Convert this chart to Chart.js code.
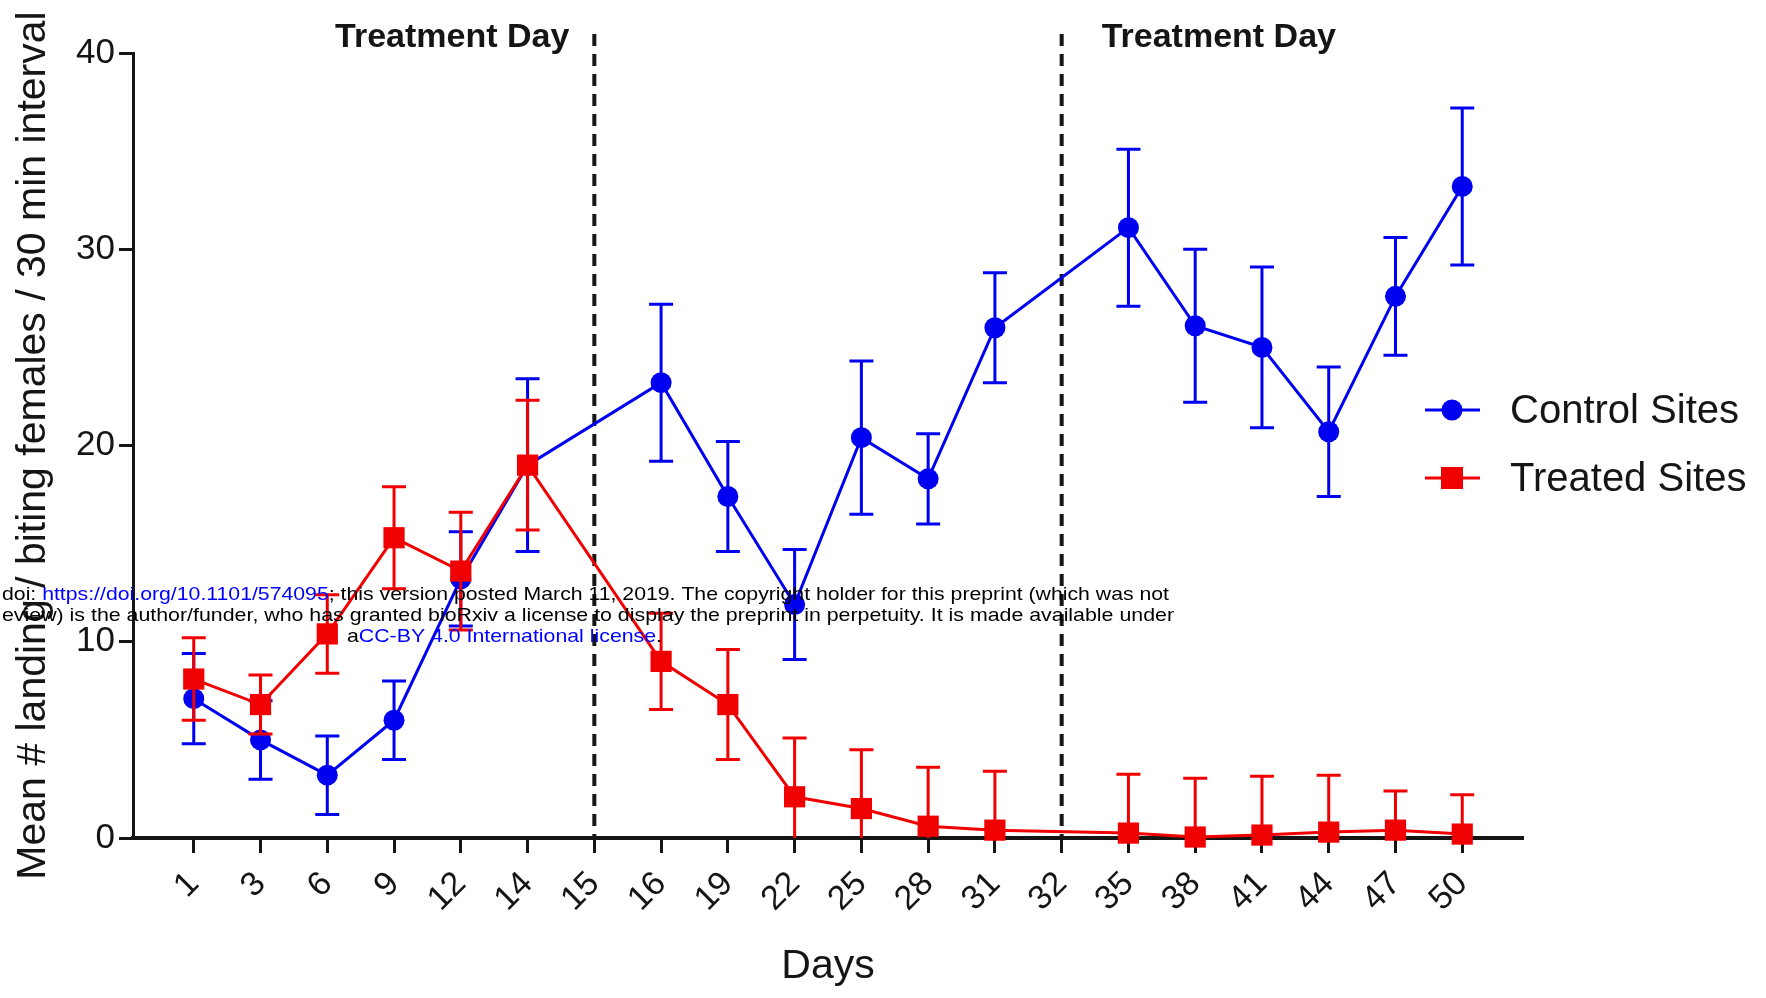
<!DOCTYPE html>
<html lang="en">
<head>
    <meta charset="UTF-8">
    <title>Landing / biting females by day</title>
    <script src="https://cdn.jsdelivr.net/npm/chart.js"></script>
    <style>
        body { margin: 0; background: #fff; }
        canvas { display: block; }
    </style>
</head>
<body>
    <canvas id="daysChart" width="1766" height="998"></canvas>

    <script>
        // values (mean and error half-width)
        const days = ['1', '3', '6', '9', '12', '14', '15', '16', '19', '22', '25', '28', '31', '32', '35', '38', '41', '44', '47', '50'];
        const controlMean = [7.1, 5.0, 3.2, 6.0, 13.2, 19.0, null, 23.2, 17.4, 11.9, 20.4, 18.3, 26.0, null, 31.1, 26.1, 25.0, 20.7, 27.6, 33.2];
        const controlErr = [2.3, 2.0, 2.0, 2.0, 2.4, 4.4, null, 4.0, 2.8, 2.8, 3.9, 2.3, 2.8, null, 4.0, 3.9, 4.1, 3.3, 3.0, 4.0];
        const treatedMean = [8.1, 6.8, 10.4, 15.3, 13.6, 19.0, null, 9.0, 6.8, 2.1, 1.5, 0.6, 0.4, null, 0.25, 0.05, 0.15, 0.3, 0.4, 0.2];
        const treatedErr = [2.1, 1.5, 2.0, 2.6, 3.0, 3.3, null, 2.45, 2.8, 3.0, 3.0, 3.0, 3.0, null, 3.0, 3.0, 3.0, 2.9, 2.0, 2.0];
        const treatmentDays = ['15', '32'];
        const yTicks = [0, 10, 20, 30, 40];

        const BLUE = 'rgb(0,0,240)';
        const RED = 'rgb(240,0,0)';
        const INK = '#151515';
        const FONT = '"Liberation Sans", Arial, sans-serif';

        const toPoints = arr => arr.map((v, i) => ({ x: i, y: v }));

        // error bars, drawn right after each dataset so red sits on top of blue
        const errorBars = {
            id: 'errorBars',
            afterDatasetDraw(chart, args) {
                const ds = chart.data.datasets[args.index];
                const err = ds.errors;
                if (!err) return;
                const ctx = chart.ctx;
                const xs = chart.scales.x, ys = chart.scales.y;
                const area = chart.chartArea;
                ctx.save();
                ctx.beginPath();
                ctx.rect(area.left, area.top - 20, area.right - area.left, area.bottom - area.top + 20);
                ctx.clip();
                ctx.strokeStyle = ds.borderColor;
                ctx.lineWidth = 3;
                ds.data.forEach((p, i) => {
                    if (p.y == null || err[i] == null) return;
                    const x = xs.getPixelForValue(p.x);
                    const yTop = ys.getPixelForValue(p.y + err[i]);
                    const yBot = ys.getPixelForValue(p.y - err[i]);
                    ctx.beginPath();
                    ctx.moveTo(x, yTop); ctx.lineTo(x, yBot);
                    ctx.moveTo(x - 12, yTop); ctx.lineTo(x + 12, yTop);
                    ctx.moveTo(x - 12, yBot); ctx.lineTo(x + 12, yBot);
                    ctx.stroke();
                });
                ctx.restore();
            }
        };

        // dashed treatment-day markers with their captions
        const treatmentLines = {
            id: 'treatmentLines',
            beforeDatasetsDraw(chart) {
                const ctx = chart.ctx;
                const xs = chart.scales.x, ys = chart.scales.y;
                ctx.save();
                ctx.strokeStyle = INK;
                ctx.lineWidth = 4;
                treatmentDays.forEach((d, k) => {
                    const x = xs.getPixelForValue(days.indexOf(d));
                    ctx.setLineDash([12, 8]);
                    ctx.beginPath();
                    ctx.moveTo(x, 34);
                    ctx.lineTo(x, ys.getPixelForValue(0));
                    ctx.stroke();
                    ctx.font = 'bold 34px ' + FONT;
                    ctx.fillStyle = INK;
                    ctx.textBaseline = 'middle';
                    if (k === 0) {
                        ctx.textAlign = 'right';
                        ctx.fillText('Treatment Day', x - 25, 38);
                    } else {
                        ctx.textAlign = 'left';
                        ctx.fillText('Treatment Day', x + 40, 38);
                    }
                });
                ctx.restore();
            }
        };

        // legend on the right: line through marker, then label
        const sideLegend = {
            id: 'sideLegend',
            afterDraw(chart) {
                const ctx = chart.ctx;
                const rows = [
                    { ds: chart.data.datasets[0], y: 410 },
                    { ds: chart.data.datasets[1], y: 478 }
                ];
                ctx.save();
                rows.forEach(r => {
                    ctx.strokeStyle = r.ds.borderColor;
                    ctx.fillStyle = r.ds.backgroundColor;
                    ctx.lineWidth = 3;
                    ctx.beginPath();
                    ctx.moveTo(1425, r.y); ctx.lineTo(1480, r.y);
                    ctx.stroke();
                    if (r.ds.pointStyle === 'circle') {
                        ctx.beginPath();
                        ctx.arc(1452, r.y, 10.5, 0, Math.PI * 2);
                        ctx.fill();
                    } else {
                        ctx.fillRect(1441, r.y - 11, 22, 22);
                    }
                    ctx.fillStyle = INK;
                    ctx.font = '40px ' + FONT;
                    ctx.textAlign = 'left';
                    ctx.textBaseline = 'middle';
                    ctx.fillText(r.ds.label, 1510, r.y + 2);
                });
                ctx.restore();
            }
        };

        // preprint notice printed across the figure
        const noticeLines = [
            { x: 2, y: 595, w: 1167, parts: [['doi: ', '#000'], ['https://doi.org/10.1101/574095', '#0000ff'], ['; this version posted March 11, 2019. The copyright holder for this preprint (which was not', '#000']] },
            { x: 2, y: 616, w: 1172, parts: [['eview) is the author/funder, who has granted bioRxiv a license to display the preprint in perpetuity. It is made available under', '#000']] },
            { x: 347, y: 637, w: 315, parts: [['a', '#000'], ['CC-BY 4.0 International license', '#0000ff'], ['.', '#000']] }
        ];
        const notice = {
            id: 'notice',
            afterDraw(chart) {
                const ctx = chart.ctx;
                ctx.save();
                ctx.font = '19px ' + FONT;
                ctx.textBaseline = 'middle';
                ctx.textAlign = 'left';
                noticeLines.forEach(line => {
                    const full = line.parts.map(p => p[0]).join('');
                    const sx = line.w / ctx.measureText(full).width;
                    ctx.save();
                    ctx.translate(line.x, line.y);
                    ctx.scale(sx, 1);
                    let cx = 0;
                    line.parts.forEach(([t, c]) => {
                        ctx.fillStyle = c;
                        ctx.fillText(t, cx, 0);
                        cx += ctx.measureText(t).width;
                    });
                    ctx.restore();
                });
                ctx.restore();
            }
        };

        const ctx = document.getElementById('daysChart').getContext('2d');
        new Chart(ctx, {
            type: 'line',
            data: {
                datasets: [
                    {
                        label: 'Control Sites',
                        data: toPoints(controlMean),
                        errors: controlErr,
                        borderColor: BLUE,
                        backgroundColor: BLUE,
                        borderWidth: 3,
                        pointStyle: 'circle',
                        pointRadius: 10.5,
                        pointBorderWidth: 0,
                        spanGaps: true,
                        tension: 0,
                        order: 2
                    },
                    {
                        label: 'Treated Sites',
                        data: toPoints(treatedMean),
                        errors: treatedErr,
                        borderColor: RED,
                        backgroundColor: RED,
                        borderWidth: 3,
                        pointStyle: 'rect',
                        pointRadius: 15,
                        pointBorderWidth: 0,
                        spanGaps: true,
                        tension: 0,
                        order: 1
                    }
                ]
            },
            options: {
                responsive: false,
                animation: false,
                clip: false,
                layout: { padding: { top: 53, right: 243, left: 0, bottom: 0 } },
                plugins: {
                    legend: { display: false },
                    tooltip: { enabled: false }
                },
                scales: {
                    x: {
                        type: 'linear',
                        min: -0.91,
                        max: days.length - 1 + 0.91,
                        afterBuildTicks: s => { s.ticks = days.map((d, i) => ({ value: i })); },
                        afterFit: s => { s.height = 160; },
                        ticks: {
                            callback: v => days[v],
                            minRotation: 45,
                            maxRotation: 45,
                            padding: 11,
                            color: INK,
                            font: { family: FONT, size: 34 }
                        },
                        grid: { drawOnChartArea: false, tickLength: 15, tickWidth: 3, tickColor: INK },
                        border: { display: true, width: 4, color: INK },
                        title: {
                            display: true,
                            text: 'Days',
                            color: INK,
                            font: { family: FONT, size: 41 },
                            padding: { top: 0, bottom: 7 }
                        }
                    },
                    y: {
                        min: 0,
                        max: 40,
                        afterBuildTicks: s => { s.ticks = yTicks.map(v => ({ value: v })); },
                        afterFit: s => { s.width = 133; },
                        ticks: {
                            padding: 4,
                            color: INK,
                            font: { family: FONT, size: 35 }
                        },
                        grid: { drawOnChartArea: false, tickLength: 14, tickWidth: 3, tickColor: INK },
                        border: { display: true, width: 3, color: INK },
                        title: {
                            display: true,
                            text: 'Mean # landing / biting females / 30 min interval',
                            color: INK,
                            font: { family: FONT, size: 41 },
                            padding: { top: 9, bottom: 0 }
                        }
                    }
                }
            },
            plugins: [errorBars, treatmentLines, sideLegend, notice]
        });
    </script>
</body>
</html>
